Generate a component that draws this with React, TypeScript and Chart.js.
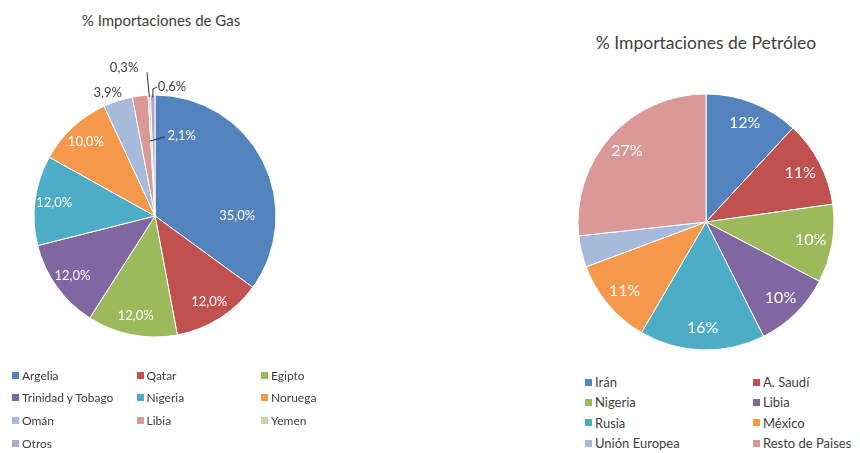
import React, { useEffect, useRef } from 'react';
import { Chart, registerables } from 'chart.js';
Chart.register(...registerables);

// ---------- Data ----------
const gasTitle = '% Importaciones de Gas';
const gasCategories = ['Argelia', 'Qatar', 'Egipto', 'Trinidad y Tobago', 'Nigeria', 'Noruega', 'Omán', 'Libia', 'Yemen', 'Otros'];
const gasValues = [35.0, 12.0, 12.0, 12.0, 12.0, 10.0, 3.9, 2.1, 0.3, 0.6];
const gasColors = ['#5283BD', '#C0514F', '#9CBA5C', '#8167A2', '#4DADC6', '#F4984B', '#A7BADB', '#DA9896', '#C7D9A2', '#B3A5CB'];

const oilTitle = '% Importaciones de Petróleo';
const oilCategories = ['Irán', 'A. Saudí', 'Nigeria', 'Libia', 'Rusia', 'México', 'Unión Europea', 'Resto de Paises'];
const oilValues = [12, 11, 10, 10, 16, 11, 4, 27];
const oilColors = ['#5283BD', '#C0514F', '#9CBA5C', '#8167A2', '#4DADC6', '#F4984B', '#A7BADB', '#DA9896'];

const FONT = 'Lato, "Noto Sans", sans-serif';
const TEXT = '#404040';

// ---------- Slice label plugin ----------
const deg = (d: number) => ((d - 90) * Math.PI) / 180;

const sliceLabelPlugin = {
  id: 'sliceLabels',
  afterDatasetsDraw(chart: any, _args: any, opts: any) {
    const ctx = chart.ctx;
    const meta = chart.getDatasetMeta(0);
    const data = chart.data.datasets[0].data;
    ctx.save();
    meta.data.forEach((arc: any, i: number) => {
      const p = (opts.place && opts.place[i]) || {};
      if (p.hide) return;
      const { x, y, startAngle, endAngle, outerRadius } = arc.getProps(['x', 'y', 'startAngle', 'endAngle', 'outerRadius'], true);
      const mid = (startAngle + endAngle) / 2;
      if (p.leader) {
        ctx.beginPath();
        p.leader.forEach((pt: any, k: number) => {
          const a = pt.angle != null ? deg(pt.angle) : mid;
          const px = x + Math.cos(a) * pt.r * outerRadius;
          const py = y + Math.sin(a) * pt.r * outerRadius;
          if (k === 0) ctx.moveTo(px, py); else ctx.lineTo(px, py);
        });
        ctx.strokeStyle = p.leaderColor || '#333';
        ctx.lineWidth = 1;
        ctx.stroke();
      }
      const a = p.angle != null ? deg(p.angle) : mid;
      const r = (p.r != null ? p.r : opts.r) * outerRadius;
      const lx = x + Math.cos(a) * r;
      const ly = y + Math.sin(a) * r;
      ctx.fillStyle = p.color || opts.color;
      ctx.font = opts.font;
      ctx.textAlign = 'center';
      ctx.textBaseline = 'middle';
      ctx.fillText(opts.format(data[i]), lx, ly);
    });
    ctx.restore();
  },
};

// ---------- Pie component ----------
function Pie(props: {
  labels: string[]; values: number[]; colors: string[]; radius: number;
  style: React.CSSProperties; labelOpts: any;
}) {
  const ref = useRef<HTMLCanvasElement | null>(null);
  useEffect(() => {
    if (!ref.current) return;
    const chart = new Chart(ref.current, {
      type: 'pie',
      data: {
        labels: props.labels,
        datasets: [{
          data: props.values,
          backgroundColor: props.colors,
          borderColor: '#ffffff',
          borderWidth: 1,
        }],
      },
      options: {
        animation: false,
        responsive: false,
        maintainAspectRatio: false,
        radius: props.radius,
        layout: { padding: 0 },
        plugins: {
          legend: { display: false },
          title: { display: false },
          tooltip: { enabled: false },
          sliceLabels: props.labelOpts,
        } as any,
      },
      plugins: [sliceLabelPlugin as any],
    });
    return () => chart.destroy();
  }, []);
  const w = props.style.width as number;
  const h = props.style.height as number;
  return <canvas ref={ref} width={w} height={h} style={{ position: 'absolute', ...props.style }} />;
}

function Legend(props: {
  labels: string[]; colors: string[]; left: number; top: number;
  colW: number; rowH: number; cols: number; fontSize: number; sq: number;
}) {
  return (
    <div style={{ position: 'absolute', left: props.left, top: props.top }}>
      {props.labels.map((l, i) => {
        const c = i % props.cols;
        const r = Math.floor(i / props.cols);
        return (
          <div key={l} style={{
            position: 'absolute', left: c * props.colW, top: r * props.rowH,
            height: props.rowH, display: 'flex', alignItems: 'center', whiteSpace: 'nowrap',
            fontFamily: FONT, fontSize: props.fontSize, color: TEXT,
          }}>
            <span style={{ display: 'inline-block', width: props.sq, height: props.sq, background: props.colors[i], marginRight: 3 }} />
            {l}
          </div>
        );
      })}
    </div>
  );
}

const gasFmt = (v: number) => v.toFixed(1).replace('.', ',') + '%';
const oilFmt = (v: number) => Math.round(v) + '%';

export default function App() {
  return (
    <div style={{ position: 'absolute', left: 0, top: 0, width: 860, height: 453, background: '#fff', overflow: 'hidden' }}>
      <div style={{ position: 'absolute', left: 41, top: 10, width: 240, textAlign: 'center', fontFamily: FONT, fontSize: 15, color: TEXT, lineHeight: '20px' }}>
        {gasTitle}
      </div>
      <Pie
        labels={gasCategories}
        values={gasValues}
        colors={gasColors}
        radius={121}
        style={{ left: 0, top: 40, width: 310, height: 352 }}
        labelOpts={{
          r: 0.84,
          color: '#ffffff',
          font: `13px ${FONT}`,
          format: gasFmt,
          place: {
            0: { angle: 90, r: 0.68 },
            6: { angle: 339, r: 1.09, color: TEXT },
            7: { angle: 18.4, r: 0.7, leader: [{ angle: 7.2, r: 0.66 }, { angle: 356, r: 0.62 }], leaderColor: '#1f2f4f' },
            8: { angle: 348.2, r: 1.25, color: TEXT, leader: [{ angle: 356.8, r: 1.19 }, { r: 0.985 }] },
            9: { angle: 7.5, r: 1.075, color: TEXT, leader: [{ r: 0.98 }, { angle: 359.1, r: 1.05 }, { angle: 0.9, r: 1.066 }] },
          },
        }}
      />
      <Legend labels={gasCategories} colors={gasColors} left={12} top={364} colW={124.5} rowH={22.6} cols={3} fontSize={12} sq={7} />

      <div style={{ position: 'absolute', left: 556, top: 32, width: 300, textAlign: 'center', fontFamily: FONT, fontSize: 17.5, color: TEXT, lineHeight: '22px' }}>
        {oilTitle}
      </div>
      <Pie
        labels={oilCategories}
        values={oilValues}
        colors={oilColors}
        radius={128}
        style={{ left: 570, top: 90, width: 272, height: 264 }}
        labelOpts={{
          r: 0.83,
          color: '#ffffff',
          font: `16px ${FONT}`,
          format: oilFmt,
          place: { 6: { hide: true } },
        }}
      />
      <Legend labels={oilCategories} colors={oilColors} left={585} top={372} colW={168} rowH={20.3} cols={2} fontSize={13} sq={7} />
    </div>
  );
}
